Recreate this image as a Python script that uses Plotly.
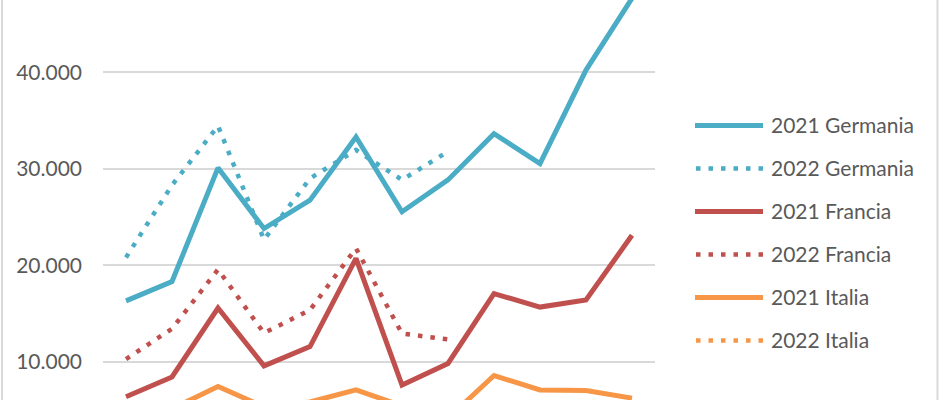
import plotly.graph_objects as go

months = ["Gen", "Feb", "Mar", "Apr", "Mag", "Giu", "Lug", "Ago", "Set", "Ott", "Nov", "Dic"]

germania_2021 = [16300, 18300, 30100, 23800, 26750, 33300, 25550, 28850, 33650, 30550, 40250, 47700]
germania_2022 = [20800, 28300, 34450, 22650, 29000, 31950, 28850, 31800]
francia_2021 = [6350, 8400, 15550, 9550, 11550, 20700, 7550, 9800, 17050, 15650, 16400, 23100]
francia_2022 = [10250, 13400, 19550, 12950, 15350, 21750, 12900, 12300]
italia_2021 = [4600, 5100, 7400, 5300, 5800, 7050, 5400, 4100, 8550, 7050, 7000, 6200]
italia_2022 = [3900, 4500, 5200, 4300, 4700, 5400, 4600, 4200]

series_names = ["2021 Germania", "2022 Germania", "2021 Francia", "2022 Francia", "2021 Italia", "2022 Italia"]
series_values = [germania_2021, germania_2022, francia_2021, francia_2022, italia_2021, italia_2022]
series_colors = ["#4BACC6", "#4BACC6", "#C0504D", "#C0504D", "#F79646", "#F79646"]
series_dash = ["solid", "4.5px,8px", "solid", "4.5px,8px", "solid", "4.5px,8px"]

y_ticks = [10000, 20000, 30000, 40000]

FONT = "Lato, 'Open Sans', sans-serif"
TEXT_COLOR = "#595959"
GRID = "#D9D9D9"

fig = go.Figure()
for name, vals, col, dash in zip(series_names, series_values, series_colors, series_dash):
    fig.add_trace(go.Scatter(
        x=list(range(len(vals))), y=vals, mode="lines", name=name,
        line=dict(color=col, width=5 if dash == "solid" else 4.5, dash=dash),
        showlegend=False, hoverinfo="skip",
    ))

# plot area geometry (pixels)
L, R = 103, 655
W, H = 940, 400
pw = R - L

def px_to_paper_x(px):
    return (px - L) / pw

def px_to_paper_y(py):
    return 1 - py / H

# manual legend
leg_y0 = 125.5
leg_dy = 43
for i, (name, col, dash) in enumerate(zip(series_names, series_colors, series_dash)):
    yy = px_to_paper_y(leg_y0 + i * leg_dy)
    fig.add_shape(type="line", xref="paper", yref="paper",
                  x0=px_to_paper_x(695 if dash == "solid" else 696), x1=px_to_paper_x(763),
                  y0=yy, y1=yy,
                  line=dict(color=col, width=5 if dash == "solid" else 4.5, dash=dash))
    fig.add_annotation(xref="paper", yref="paper", x=px_to_paper_x(769), y=px_to_paper_y(leg_y0 + i * leg_dy - 1),
                       text=name, showarrow=False, xanchor="left", yanchor="middle",
                       font=dict(family=FONT, size=21, color=TEXT_COLOR))

# chart area borders
for bx in (2, 937.5):
    fig.add_shape(type="line", xref="paper", yref="paper",
                  x0=px_to_paper_x(bx), x1=px_to_paper_x(bx), y0=-0.01, y1=1.01,
                  line=dict(color=GRID, width=2))

fig.update_layout(
    width=W, height=H,
    margin=dict(l=L, r=W - R, t=0, b=0),
    plot_bgcolor="white", paper_bgcolor="white",
    separators=",.",
    xaxis=dict(range=[-0.5, 11.5], showgrid=False, zeroline=False, showticklabels=False,
               showline=False, ticks=""),
    yaxis=dict(range=[6006, 47521], tickvals=y_ticks, tickformat=",d",
               showgrid=True, gridcolor=GRID, gridwidth=1.6, zeroline=False, showline=False,
               ticks="", ticklabelstandoff=20,
               tickfont=dict(family=FONT, size=21, color=TEXT_COLOR)),
    showlegend=False,
)

fig.write_html("out.html", config={"displayModeBar": False},
               post_script="document.body.style.margin='0';document.body.style.overflow='hidden';")
